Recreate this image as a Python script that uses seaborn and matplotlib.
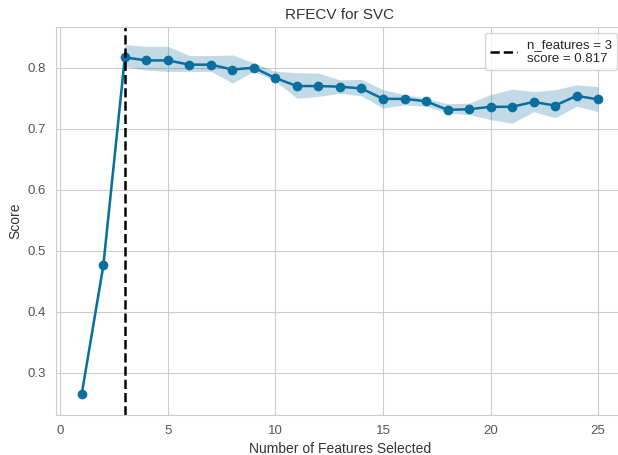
import numpy as np
import pandas as pd
import matplotlib
matplotlib.use("Agg")
import matplotlib.pyplot as plt
import seaborn as sns


# RFECV curve for an SVC: mean CV score per number of selected features


n_features = list(range(1, 26))
score_mean = [0.266, 0.476, 0.817, 0.812, 0.812, 0.805, 0.805, 0.797, 0.800, 0.783,
              0.770, 0.770, 0.769, 0.766, 0.749, 0.749, 0.745, 0.731, 0.732, 0.736,
              0.736, 0.744, 0.738, 0.754, 0.748]
score_upper = [0.269, 0.486, 0.838, 0.835, 0.835, 0.820, 0.820, 0.821, 0.808, 0.794,
               0.792, 0.791, 0.780, 0.781, 0.764, 0.756, 0.750, 0.741, 0.742, 0.756,
               0.765, 0.761, 0.764, 0.772, 0.769]
score_lower = [0.263, 0.466, 0.802, 0.796, 0.794, 0.794, 0.794, 0.775, 0.794, 0.778,
               0.750, 0.753, 0.758, 0.754, 0.734, 0.739, 0.737, 0.726, 0.723, 0.715,
               0.709, 0.728, 0.718, 0.737, 0.728]

best_n = 3
best_score = 0.817

color = '#0a6f9e'


def plot():
    sns.set_style("whitegrid")
    plt.rcParams['font.family'] = ['Liberation Sans', 'DejaVu Sans']

    data = pd.DataFrame({'n_features': n_features, 'score': score_mean})

    fig = plt.figure(figsize=(6.18, 4.55), dpi=100)
    ax = fig.add_axes([0.0906, 0.088, 0.919, 0.853])

    ax.fill_between(n_features, score_lower, score_upper, color=color, alpha=0.25, linewidth=0)
    sns.lineplot(x='n_features', y='score', data=data, ax=ax, color=color,
                 marker='o', markersize=7, markeredgewidth=0, linewidth=1.8)

    label = 'n_features = {}\nscore = {:0.3f}'.format(best_n, best_score)
    ax.axvline(best_n, color='k', linestyle='--', linewidth=1.8, label=label)

    ax.set_title('RFECV for SVC', fontsize=11, color='#333333')
    ax.set_xlabel('Number of Features Selected', fontsize=10, color='#333333')
    ax.set_ylabel('Score', fontsize=10, color='#333333')
    ax.set_xticks([0, 5, 10, 15, 20, 25])
    ax.set_yticks([0.3, 0.4, 0.5, 0.6, 0.7, 0.8])
    ax.tick_params(labelsize=9.5, colors='#555555')
    ax.set_xlim(-0.2, 26.2)
    ax.set_ylim(0.231, 0.867)
    for sp in ax.spines.values():
        sp.set_color('#cccccc')

    ax.legend(frameon=True, loc='upper right', fontsize=9.5, handlelength=2.0,
              borderaxespad=0.5, labelspacing=0.2)

    fig.savefig('out.png', dpi=100)
    fig.clf()


if __name__ == "__main__":

    plot()
